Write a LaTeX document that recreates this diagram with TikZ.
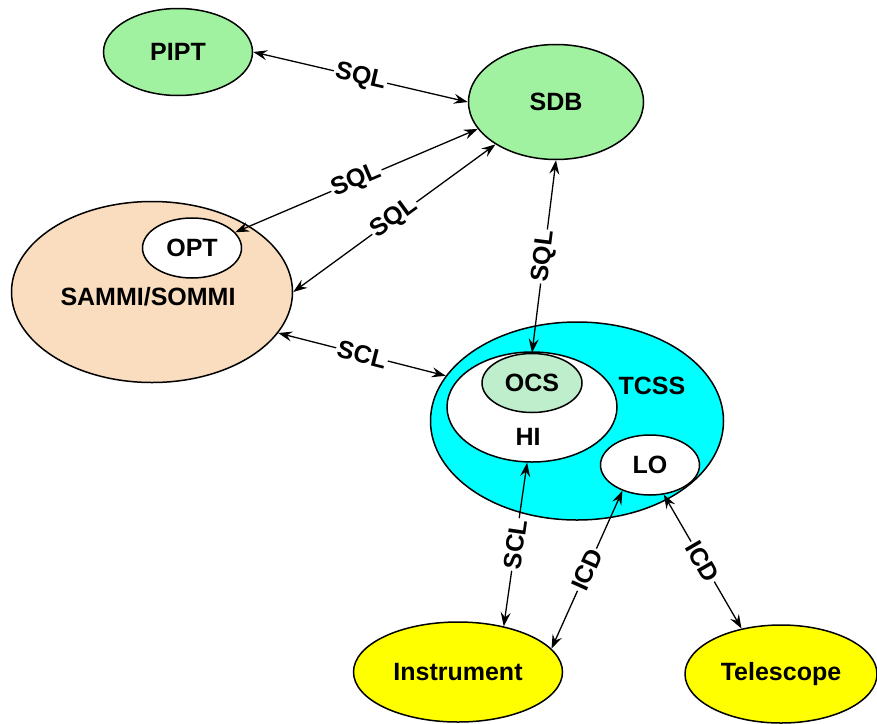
\documentclass[tikz,border=0pt]{standalone}
\usepackage{fontspec}
\setmainfont{Liberation Sans}
\usetikzlibrary{shapes.geometric,arrows.meta,backgrounds}
\definecolor{dbgreen}{RGB}{160,242,160}
\definecolor{peach}{RGB}{250,220,190}
\definecolor{tcsscyan}{RGB}{0,255,255}
\definecolor{ocsgreen}{RGB}{190,238,204}
\definecolor{hwyellow}{RGB}{255,255,0}

\tikzset{
  blob/.style={ellipse, draw=black, line width=1.5pt, inner sep=0pt, font=\fontsize{25}{30}\selectfont\bfseries},
  blobtext/.style={inner sep=0pt, font=\fontsize{25}{30}\selectfont\bfseries},
  link/.style={{Stealth[length=14pt,width=10pt,inset=5pt]}-{Stealth[length=14pt,width=10pt,inset=5pt]}, line width=1.3pt},
  proto/.style={fill=white, inner sep=1.5pt, sloped, font=\fontsize{25}{30}\selectfont\bfseries}
}

\begin{document}
\begin{tikzpicture}[x=1pt, y=-1pt, background rectangle/.style={fill=white}, show background rectangle, inner frame sep=0pt]
    \useasboundingbox (0,0) rectangle (877,723);

    % 1. Proposal tool and science database
    \node[blob, fill=dbgreen, minimum width=149pt, minimum height=87pt] (pipt) at (178,52) {PIPT};
    \node[blob, fill=dbgreen, minimum width=175pt, minimum height=115pt] (sdb) at (556,102) {SDB};

    % 2. SAMMI/SOMMI with its OPT
    \node[blob, fill=peach, minimum width=281pt, minimum height=181pt] (sammi) at (152,292) {};
    \node[blobtext] (sammitxt) at (148,297) {SAMMI/SOMMI};
    \node[blob, fill=white, minimum width=99pt, minimum height=60pt] (opt) at (192,248) {OPT};

    % 3. TCSS with HI, OCS and LO
    \node[blob, fill=tcsscyan, minimum width=293pt, minimum height=198pt] (tcss) at (577,421) {};
    \node[blobtext] (tcsstxt) at (652,386) {TCSS};
    \node[blob, fill=white, minimum width=170pt, minimum height=110pt] (hi) at (532,407) {};
    \node[blobtext] (hitxt) at (528,437) {HI};
    \node[blob, fill=ocsgreen, minimum width=100pt, minimum height=59pt] (ocs) at (532,383) {OCS};
    \node[blob, fill=white, minimum width=99pt, minimum height=60pt] (lo) at (650,465) {LO};

    % 4. Instrument and telescope
    \node[blob, fill=hwyellow, minimum width=209pt, minimum height=100pt] (instr) at (458,672) {Instrument};
    \node[blob, fill=hwyellow, minimum width=192pt, minimum height=98pt] (tel) at (781,674) {Telescope};

    % 5. Interfaces
    \draw[link] (pipt.east) -- node[proto] {SQL} (sdb.west);
    \draw[link] (sdb.199) -- node[proto] {SQL} (opt.20);
    \draw[link] (sdb.215) -- node[proto] {SQL} (sammi.east);
    \draw[link] (sdb.south) -- node[proto] {SQL} (ocs.north);
    \draw[link] (sammi.-18.6) -- node[proto] {SCL} (tcss.161.6);
    \draw[link] (hi.265) -- node[proto] {SCL} (instr.45);
    \draw[link] (lo.223) -- node[proto] {ICD} (instr.14);
    \draw[link] (lo.295) -- node[proto] {ICD} (tel.131);

\end{tikzpicture}
\end{document}
